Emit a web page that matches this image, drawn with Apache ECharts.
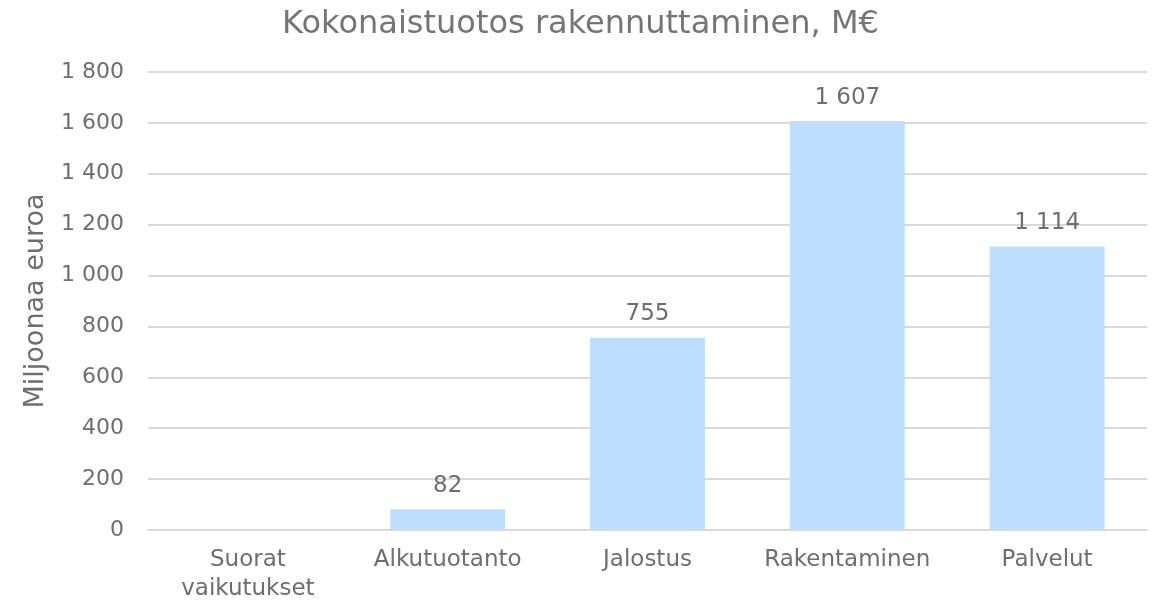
<!DOCTYPE html>
<html>
<head>
<meta charset="utf-8">
<script src="https://cdn.jsdelivr.net/npm/echarts@6/dist/echarts.min.js"></script>
<style>
  html, body { margin: 0; padding: 0; background: #fff; }
  #chart { width: 1161px; height: 605px; }
</style>
</head>
<body>
<div id="chart"></div>
<script>
const categories = ['Suorat\nvaikutukset', 'Alkutuotanto', 'Jalostus', 'Rakentaminen', 'Palvelut'];
const values = [null, 82, 755, 1607, 1114];

const FONT = '"DejaVu Sans", Verdana, sans-serif';
const TEXT = '#6E6E6E';

// Finnish style thousands separator: "1 800"
const spaced = v => String(v).replace(/\B(?=(\d{3})+(?!\d))/g, ' ');

const c = echarts.init(document.getElementById('chart'), null, { renderer: 'canvas' });
c.setOption({
  animation: false,
  textStyle: { fontFamily: FONT, color: TEXT },
  title: {
    text: 'Kokonaistuotos rakennuttaminen, M€',
    left: 'center', top: 4,
    textStyle: { fontFamily: FONT, fontSize: 32, fontWeight: 'normal', color: '#757575' },
  },
  grid: { left: 148, right: 14, top: 72, bottom: 75 },
  xAxis: {
    type: 'category', data: categories,
    axisLine: { lineStyle: { color: '#D9D9D9', width: 2 } },
    axisTick: { show: false },
    axisLabel: { color: TEXT, fontFamily: FONT, fontSize: 23, margin: 16, lineHeight: 29, interval: 0 },
  },
  yAxis: {
    type: 'value', min: 0, max: 1800, interval: 200,
    name: 'Miljoonaa euroa', nameLocation: 'middle', nameGap: 99, nameRotate: 90,
    nameTextStyle: { color: TEXT, fontFamily: FONT, fontSize: 27 },
    axisLine: { show: false },
    axisTick: { show: false },
    splitLine: { lineStyle: { color: '#D9D9D9', width: 2 } },
    axisLabel: { color: TEXT, fontFamily: FONT, fontSize: 22, margin: 24, formatter: spaced },
  },
  series: [{
    type: 'bar', data: values, barWidth: '57.5%',
    itemStyle: { color: '#BDDEFF' },
    label: {
      show: true, position: 'top', distance: 12,
      color: TEXT, fontFamily: FONT, fontSize: 23,
      formatter: p => p.value == null ? '' : spaced(p.value),
    },
  }],
});
</script>
</body>
</html>
